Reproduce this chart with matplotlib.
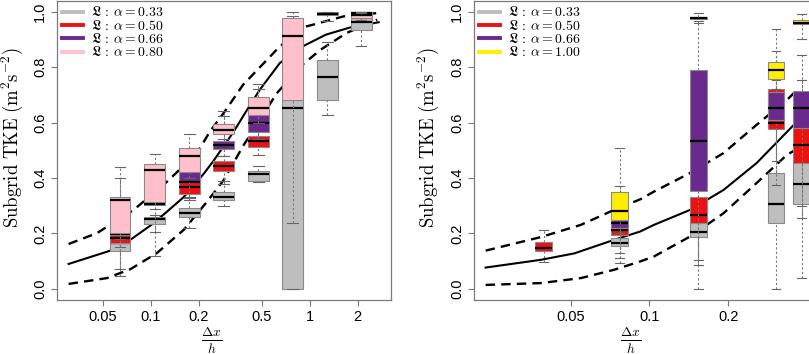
import numpy as np
import matplotlib
matplotlib.use("Agg")
import matplotlib.pyplot as plt
from matplotlib.patches import Rectangle
from matplotlib.lines import Line2D

plt.rcParams['mathtext.fontset'] = 'cm'
plt.rcParams['font.family'] = ['Liberation Sans', 'DejaVu Sans']

nan = np.nan

# ---------------- Left panel data ----------------
L_pos = [0.064, 0.106, 0.175, 0.287, 0.474, 0.78, 1.29, 2.1]
L_xticks = [0.05, 0.1, 0.2, 0.5, 1, 2]
L_xticklabels = ['0.05', '0.1', '0.2', '0.5', '1', '2']
L_labels = [r'$\mathfrak{L}\,:\,\alpha = 0.33$', r'$\mathfrak{L}\,:\,\alpha = 0.50$',
            r'$\mathfrak{L}\,:\,\alpha = 0.66$', r'$\mathfrak{L}\,:\,\alpha = 0.80$']

# alpha = 0.33 (gray)
L_g_q1 = [0.137, 0.235, 0.259, 0.321, 0.391, 0.000, 0.682, 0.935]
L_g_med = [0.165, 0.252, 0.275, 0.333, 0.413, 0.654, 0.766, 0.963]
L_g_q3 = [0.165, 0.259, 0.291, 0.351, 0.424, 0.682, 0.827, 0.977]
L_g_lo = [0.048, 0.120, 0.219, 0.300, 0.387, 0.000, 0.628, 0.875]
L_g_hi = [0.200, 0.267, 0.327, 0.390, 0.444, 0.985, 0.889, 0.985]
# alpha = 0.50 (red)
L_r_q1 = [0.165, 0.301, 0.342, 0.427, 0.511, nan, nan, nan]
L_r_med = [0.183, 0.307, 0.368, 0.444, 0.533, nan, nan, nan]
L_r_q3 = [0.194, 0.313, 0.387, 0.460, 0.552, nan, nan, nan]
L_r_lo = [0.072, 0.207, 0.320, 0.378, 0.484, nan, nan, nan]
L_r_hi = [0.400, 0.330, 0.420, 0.480, 0.580, nan, nan, nan]
# alpha = 0.66 (purple)
L_p_q1 = [0.195, nan, 0.387, 0.505, 0.566, nan, 0.987, 0.995]
L_p_med = [0.198, nan, 0.387, 0.519, 0.597, nan, 0.991, 0.997]
L_p_q3 = [0.201, nan, 0.420, 0.535, 0.628, nan, 0.998, 0.999]
L_p_lo = [0.150, nan, 0.330, 0.480, 0.540, nan, 0.966, 0.990]
L_p_hi = [0.250, nan, 0.440, 0.622, 0.721, nan, 0.999, 0.999]
# alpha = 0.80 (pink)
L_k_q1 = [0.201, 0.313, 0.420, 0.558, 0.628, 0.682, nan, 0.977]
L_k_med = [0.321, 0.430, 0.480, 0.574, 0.652, 0.914, nan, 0.988]
L_k_q3 = [0.330, 0.451, 0.508, 0.594, 0.691, 0.977, nan, 0.993]
L_k_lo = [0.180, 0.290, 0.400, 0.540, 0.600, 0.237, nan, 0.970]
L_k_hi = [0.439, 0.486, 0.558, 0.643, 0.740, 0.998, nan, 0.996]

# curves
L_solid_x = [0.0304, 0.0556, 0.0743, 0.1042, 0.1608, 0.2149, 0.2465, 0.33, 0.407, 0.484, 0.648, 0.903, 1.26, 1.79, 2.71]
L_solid_y = [0.090, 0.138, 0.177, 0.237, 0.331, 0.415, 0.460, 0.565, 0.650, 0.718, 0.815, 0.875, 0.917, 0.943, 0.962]
L_up_x = [0.0304, 0.0458, 0.078, 0.1265, 0.1952, 0.2356, 0.2877, 0.38, 0.648, 0.955, 1.63, 2.65]
L_up_y = [0.162, 0.201, 0.285, 0.387, 0.490, 0.568, 0.635, 0.736, 0.875, 0.947, 0.983, 0.995]
L_lo_x = [0.0304, 0.0529, 0.0743, 0.109, 0.161, 0.226, 0.2877, 0.38, 0.62, 0.90, 1.17, 1.70, 2.65]
L_lo_y = [0.018, 0.039, 0.071, 0.129, 0.213, 0.315, 0.393, 0.515, 0.706, 0.809, 0.863, 0.923, 0.971]

# ---------------- Right panel data ----------------
R_pos = [0.0393, 0.0768, 0.154, 0.305, 0.382]
R_xticks = [0.05, 0.1, 0.2]
R_xticklabels = ['0.05', '0.1', '0.2']
R_labels = [r'$\mathfrak{L}\,:\,\alpha = 0.33$', r'$\mathfrak{L}\,:\,\alpha = 0.50$',
            r'$\mathfrak{L}\,:\,\alpha = 0.66$', r'$\mathfrak{L}\,:\,\alpha = 1.00$']

R_g_q1 = [nan, 0.153, 0.187, 0.239, 0.306]
R_g_med = [nan, 0.167, 0.205, 0.306, 0.378]
R_g_q3 = [nan, 0.185, 0.237, 0.418, 0.454]
R_g_lo = [nan, 0.093, 0.000, 0.000, 0.041]
R_g_hi = [nan, 0.200, 0.300, 0.600, 0.700]

R_r_q1 = [0.138, 0.195, 0.237, 0.578, 0.454]
R_r_med = [0.149, 0.213, 0.268, 0.600, 0.520]
R_r_q3 = [0.169, 0.223, 0.333, 0.721, 0.582]
R_r_lo = [0.096, 0.113, 0.087, 0.375, 0.255]
R_r_hi = [0.211, 0.240, 0.450, 0.857, 0.845]

R_p_q1 = [nan, 0.221, 0.354, 0.608, 0.582]
R_p_med = [nan, 0.238, 0.535, 0.652, 0.652]
R_p_q3 = [nan, 0.247, 0.790, 0.709, 0.715]
R_p_lo = [nan, 0.131, 0.105, 0.460, 0.300]
R_p_hi = [nan, 0.372, 0.965, 0.754, 0.755]

R_y_q1 = [nan, 0.247, 0.975, 0.757, 0.956]
R_y_med = [nan, 0.282, 0.978, 0.788, 0.961]
R_y_q3 = [nan, 0.351, 0.981, 0.819, 0.969]
R_y_lo = [nan, 0.200, 0.960, 0.720, 0.900]
R_y_hi = [nan, 0.508, 0.995, 0.937, 0.992]

R_solid_x = [0.0236, 0.0384, 0.0515, 0.0732, 0.0921, 0.104, 0.143, 0.192, 0.257, 0.357, 0.41]
R_solid_y = [0.077, 0.105, 0.128, 0.177, 0.207, 0.231, 0.285, 0.357, 0.454, 0.592, 0.64]
R_up_x = [0.0236, 0.0384, 0.0546, 0.0732, 0.0921, 0.104, 0.143, 0.192, 0.257, 0.336, 0.36]
R_up_y = [0.138, 0.187, 0.231, 0.285, 0.323, 0.351, 0.418, 0.490, 0.592, 0.682, 0.71]
R_lo_x = [0.0236, 0.0384, 0.0546, 0.0732, 0.0921, 0.104, 0.143, 0.192, 0.257, 0.336, 0.36]
R_lo_y = [0.0144, 0.021, 0.039, 0.069, 0.099, 0.117, 0.189, 0.273, 0.382, 0.484, 0.50]

GRAY = '#BEBEBE'
RED = '#EE1111'
PURPLE = '#6A2A8D'
PINK = '#FFC0CB'
YELLOW = '#FFEE00'
EDGE = '#8a8a8a'
SPINE = '#7a7a7a'


def draw_boxes(ax, pos, q1, med, q3, lo, hi, color, half, z):
    for i, x in enumerate(pos):
        if np.isnan(q1[i]):
            continue
        x0, x1 = x / half, x * half
        c0, c1 = x / np.sqrt(half), x * np.sqrt(half)
        ax.add_patch(Rectangle((x0, q1[i]), x1 - x0, q3[i] - q1[i], facecolor=color,
                               edgecolor=EDGE, lw=0.8, zorder=z))
        ax.plot([x0, x1], [med[i], med[i]], color='black', lw=1.6, zorder=z + 0.1,
                solid_capstyle='butt')
        ax.plot([x, x], [lo[i], q1[i]], color='#777777', lw=0.8, ls=(0, (2, 2)), zorder=z + 0.2)
        ax.plot([x, x], [q3[i], hi[i]], color='#777777', lw=0.8, ls=(0, (2, 2)), zorder=z + 0.2)
        ax.plot([c0, c1], [lo[i], lo[i]], color='#666666', lw=0.8, zorder=z + 0.2)
        ax.plot([c0, c1], [hi[i], hi[i]], color='#666666', lw=0.8, zorder=z + 0.2)


def style_axis(ax, xlim, xticks, xticklabels, ylab_x):
    ax.set_xscale('log')
    ax.set_xlim(*xlim)
    ax.set_ylim(-0.04, 1.04)
    ax.minorticks_off()
    ax.set_xticks(xticks)
    ax.set_xticklabels(xticklabels)
    yt = [0.0, 0.2, 0.4, 0.6, 0.8, 1.0]
    ax.set_yticks(yt)
    ax.set_yticklabels(['%.1f' % v for v in yt], rotation=90, va='center')
    ax.tick_params(length=4.2, width=0.8, color=SPINE, labelsize=10.5, pad=3)
    for s in ax.spines.values():
        s.set_color(SPINE)
        s.set_linewidth(0.9)
    ax.set_ylabel(r'$\mathrm{Subgrid\ TKE\ (m^2s^{-2})}$', fontsize=13.5)
    ax.set_xlabel(r'$\frac{\Delta x}{h}$', fontsize=14)
    ax.xaxis.set_label_coords(0.464, -0.087)
    ax.yaxis.set_label_coords(ylab_x, 0.543)


fig = plt.figure(figsize=(8.09, 3.54), dpi=100)
axL = fig.add_axes([57 / 809, 54 / 354, 334 / 809, 299.4 / 354])
axR = fig.add_axes([474 / 809, 54 / 354, 337 / 809, 299.4 / 354])

# left
style_axis(axL, (0.0257, 3.24), L_xticks, L_xticklabels, -0.097)
axL.plot(L_solid_x, L_solid_y, color='black', lw=1.5, zorder=1)
axL.plot(L_up_x, L_up_y, color='black', lw=1.7, ls=(0, (4, 2.6)), zorder=1)
axL.plot(L_lo_x, L_lo_y, color='black', lw=1.7, ls=(0, (4, 2.6)), zorder=1)
hL = 10 ** 0.066
draw_boxes(axL, L_pos, L_g_q1, L_g_med, L_g_q3, L_g_lo, L_g_hi, GRAY, hL, 2)
draw_boxes(axL, L_pos, L_r_q1, L_r_med, L_r_q3, L_r_lo, L_r_hi, RED, hL, 3)
draw_boxes(axL, L_pos, L_p_q1, L_p_med, L_p_q3, L_p_lo, L_p_hi, PURPLE, hL, 4)
draw_boxes(axL, L_pos, L_k_q1, L_k_med, L_k_q3, L_k_lo, L_k_hi, PINK, hL, 5)

# right
style_axis(axR, (0.0213, 0.415), R_xticks, R_xticklabels, -0.098)
axR.plot(R_solid_x, R_solid_y, color='black', lw=1.5, zorder=1)
axR.plot(R_up_x, R_up_y, color='black', lw=1.7, ls=(0, (4, 2.6)), zorder=1)
axR.plot(R_lo_x, R_lo_y, color='black', lw=1.7, ls=(0, (4, 2.6)), zorder=1)
hR = 10 ** 0.032
draw_boxes(axR, R_pos, R_g_q1, R_g_med, R_g_q3, R_g_lo, R_g_hi, GRAY, hR, 2)
draw_boxes(axR, R_pos, R_r_q1, R_r_med, R_r_q3, R_r_lo, R_r_hi, RED, hR, 3)
draw_boxes(axR, R_pos, R_p_q1, R_p_med, R_p_q3, R_p_lo, R_p_hi, PURPLE, hR, 4)
draw_boxes(axR, R_pos, R_y_q1, R_y_med, R_y_q3, R_y_lo, R_y_hi, YELLOW, hR, 5)

for ax, labels, cols in ((axL, L_labels, [GRAY, RED, PURPLE, PINK]),
                         (axR, R_labels, [GRAY, RED, PURPLE, YELLOW])):
    handles = [Line2D([], [], color=c, lw=2.8) for c in cols]
    ax.legend(handles, labels, loc='upper left', bbox_to_anchor=(0.0, 1.0), frameon=False,
              fontsize=10, handlelength=1.5, handletextpad=0.6, labelspacing=-0.05,
              borderaxespad=0.15, borderpad=0.2)

fig.savefig('out.png', dpi=100)
